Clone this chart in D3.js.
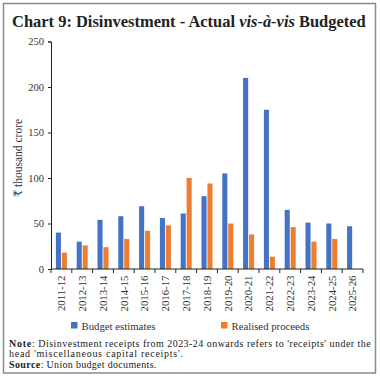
<html>
<head>
  <script src="https://cdnjs.cloudflare.com/ajax/libs/d3/7.8.5/d3.min.js"></script>
  <style>
    body { margin: 0; background: #fff; }
    text { font-family: "Liberation Serif", "DejaVu Serif", serif; }
  </style>
</head>
<body>
  <script>
    // values (₹ thousand crore)
    const years = ["2011-12", "2012-13", "2013-14", "2014-15", "2015-16", "2016-17", "2017-18",
                   "2018-19", "2019-20", "2020-21", "2021-22", "2022-23", "2023-24", "2024-25", "2025-26"];
    const budgetEstimates = [40, 30, 54, 58, 69, 56, 61, 80, 105, 210, 175, 65, 51, 50, 47];
    const realisedProceeds = [18, 26, 24, 33, 42, 48, 100, 94, 50, 38, 13.5, 46, 30, 33, null];
    const seriesNames = ["Budget estimates", "Realised proceeds"];
    const yTicks = [0, 50, 100, 150, 200, 250];

    const width = 380, height = 381;
    const colors = ["#4472C4", "#ED7D31"];

    const svg = d3.select( "body" )
    .append( "svg" )
    .attr( "width", width )
    .attr( "height", height );

    // frame
    svg.append( "rect" )
      .attr( "x", 3.5 ).attr( "y", 3.5 )
      .attr( "width", 372 ).attr( "height", 369.5 )
      .attr( "fill", "none" )
      .attr( "stroke", "#8a8a8a" )
      .attr( "stroke-width", 1.5 );

    // scale font size so the text spans w pixels
    function fitSize( sel, w ) {
      const len = sel.node().getComputedTextLength();
      const fs = +sel.attr( "font-size" );
      if ( len > 0 ) sel.attr( "font-size", fs * w / len );
      return sel;
    }

    // stretch a plain text to w pixels
    function stretch( sel, w ) {
      sel.selectAll( "tspan" ).each( function() {
        const t = d3.select( this );
        t.attr( "textLength", this.getComputedTextLength() * w / sel.node().getComputedTextLength() );
      } );
      return sel;
    }

    // title
    const title = svg.append( "text" )
      .attr( "x", 12 ).attr( "y", 27 )
      .attr( "font-size", 17 ).attr( "font-weight", "bold" )
      .attr( "fill", "#222" );
    title.append( "tspan" ).text( "Chart 9: Disinvestment - Actual " );
    title.append( "tspan" ).attr( "font-style", "italic" ).text( "vis-à-vis" );
    title.append( "tspan" ).text( " Budgeted" );
    fitSize( title, 354 );

    const x = d3.scaleBand()
      .domain( years )
      .range( [51, 363] );

    const inner = d3.scaleBand()
      .domain( [0, 1] )
      .range( [x.bandwidth() / 2 - 5.5, x.bandwidth() / 2 + 5.5] )
      .paddingInner( 0.15 );

    const y = d3.scaleLinear()
      .domain( [0, 250] )
      .range( [269, 41.5] );

    const rows = years.map( ( yr, i ) => ( { year: yr, vals: [budgetEstimates[i], realisedProceeds[i]] } ) );

    const groups = svg.append( "g" )
      .selectAll( "g" )
      .data( rows )
      .enter()
      .append( "g" )
      .attr( "transform", d => "translate(" + x( d.year ) + ",0)" );

    groups.selectAll( "rect" )
      .data( d => d.vals.map( ( v, k ) => ( { v: v, k: k } ) ).filter( e => e.v != null ) )
      .enter()
      .append( "rect" )
      .attr( "x", e => inner( e.k ) )
      .attr( "width", inner.bandwidth() )
      .attr( "y", e => y( e.v ) )
      .attr( "height", e => y( 0 ) - y( e.v ) )
      .attr( "fill", e => colors[e.k] );

    // y axis
    const yAxis = svg.append( "g" )
      .attr( "transform", "translate(51,0)" )
      .call( d3.axisLeft( y ).tickValues( yTicks ).tickSize( 3 ).tickPadding( 4 ) );
    yAxis.selectAll( "text" )
      .attr( "font-family", "Liberation Serif" )
      .attr( "font-size", 10.5 ).attr( "fill", "#333" );
    yAxis.selectAll( "line, path" ).attr( "stroke", "#222" );

    // x axis, ticks on category boundaries
    const xAxis = svg.append( "g" )
      .attr( "transform", "translate(0,269)" );
    xAxis.append( "line" )
      .attr( "x1", 51 ).attr( "x2", 363 )
      .attr( "stroke", "#222" );
    xAxis.selectAll( "line.tick" )
      .data( years.concat( ["end"] ) )
      .enter()
      .append( "line" )
      .attr( "class", "tick" )
      .attr( "x1", ( d, i ) => i < years.length ? x( d ) : x( years[years.length - 1] ) + x.step() )
      .attr( "x2", ( d, i ) => i < years.length ? x( d ) : x( years[years.length - 1] ) + x.step() )
      .attr( "y1", 0 ).attr( "y2", 4 )
      .attr( "stroke", "#222" );
    xAxis.selectAll( "text" )
      .data( years )
      .enter()
      .append( "text" )
      .attr( "transform", d => "translate(" + ( x( d ) + x.bandwidth() / 2 + 3.7 ) + ",6.5) rotate(-90)" )
      .attr( "text-anchor", "end" )
      .attr( "font-size", 10.8 )
      .attr( "fill", "#333" )
      .text( d => d );

    // y axis title
    svg.append( "text" )
      .attr( "transform", "translate(21.5,158) rotate(-90)" )
      .attr( "text-anchor", "middle" )
      .attr( "font-size", 11.5 )
      .attr( "fill", "#333" )
      .text( "₹ thousand crore" );

    // legend
    const legX = [71, 221];
    const legW = [74, 78];
    const legend = svg.append( "g" )
      .selectAll( "g" )
      .data( seriesNames )
      .enter()
      .append( "g" )
      .attr( "transform", ( d, i ) => "translate(" + legX[i] + ",322)" );
    legend.append( "rect" )
      .attr( "width", 6.5 ).attr( "height", 6.5 )
      .attr( "fill", ( d, i ) => colors[i] );
    legend.append( "text" )
      .attr( "x", 10.5 ).attr( "y", 7.5 )
      .attr( "font-size", 11 )
      .attr( "fill", "#333" )
      .text( d => d )
      .each( function( d, i ) { fitSize( d3.select( this ), legW[i] ); } );

    // note and source
    const note1 = svg.append( "text" ).attr( "x", 9 ).attr( "y", 346.5 ).attr( "font-size", 10 ).attr( "fill", "#222" );
    note1.append( "tspan" ).attr( "font-weight", "bold" ).text( "Note" );
    note1.append( "tspan" ).text( ": Disinvestment receipts from 2023-24 onwards refers to 'receipts' under the" );
    stretch( note1, 361 );

    const note2 = svg.append( "text" ).attr( "x", 9 ).attr( "y", 357 ).attr( "font-size", 10 ).attr( "fill", "#222" );
    note2.append( "tspan" ).text( "head 'miscellaneous capital receipts'." );
    stretch( note2, 174 );

    const src = svg.append( "text" ).attr( "x", 9 ).attr( "y", 367.5 ).attr( "font-size", 10 ).attr( "fill", "#222" );
    src.append( "tspan" ).attr( "font-weight", "bold" ).text( "Source" );
    src.append( "tspan" ).text( ": Union budget documents." );
    stretch( src, 147 );
  </script>
</body>
</html>
